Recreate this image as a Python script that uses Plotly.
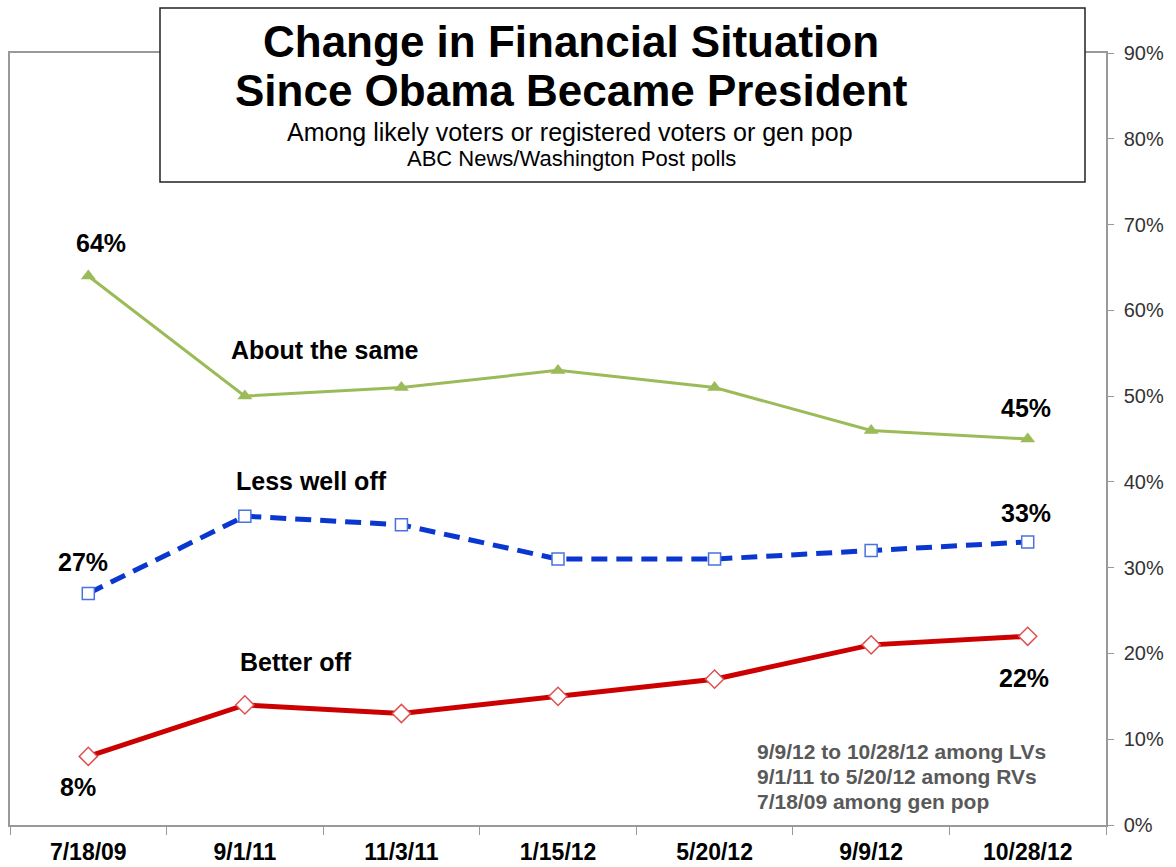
import plotly.graph_objects as go

# Poll dates and shares (percent) for each answer
dates = ["7/18/09", "9/1/11", "11/3/11", "1/15/12", "5/20/12", "9/9/12", "10/28/12"]
about_same = [64, 50, 51, 53, 51, 46, 45]
less_well_off = [27, 36, 35, 31, 31, 32, 33]
better_off = [8, 14, 13, 15, 17, 21, 22]

y_ticks = [0, 10, 20, 30, 40, 50, 60, 70, 80, 90]
y_labels = [f"{v}%" for v in y_ticks]

FONT = "Arial, 'Liberation Sans', sans-serif"
W, H = 1176, 867
L, R, T, B = 10, 70, 53, 42


def px(x):
    return (x - L) / (W - L - R)


def py(y):
    return (H - B - y) / (H - T - B)


fig = go.Figure()

fig.add_trace(go.Scatter(
    x=dates, y=about_same, mode="lines+markers", name="About the same",
    line=dict(color="#9BBB59", width=3),
    marker=dict(symbol="triangle-up", size=13, color="#9BBB59"),
))
fig.add_trace(go.Scatter(
    x=dates, y=less_well_off, mode="lines+markers", name="Less well off",
    line=dict(color="#0A37D0", width=5, dash="16px,9px"),
    marker=dict(symbol="square", size=12, color="white",
                line=dict(color="#4A72E0", width=1.5)),
))
fig.add_trace(go.Scatter(
    x=dates, y=better_off, mode="lines+markers", name="Better off",
    line=dict(color="#CC0000", width=5),
    marker=dict(symbol="diamond", size=14, color="white",
                line=dict(color="#E05050", width=1.5)),
))

annotations = []


def label(text, x, y, size=25, color="black", bold=True, xanchor="center"):
    t = f"<b>{text}</b>" if bold else text
    annotations.append(dict(
        text=t, x=px(x), y=py(y), xref="paper", yref="paper",
        xanchor=xanchor, yanchor="middle", showarrow=False,
        font=dict(family=FONT, size=size, color=color),
    ))


# Value and series labels
label("64%", 101, 243)
label("About the same", 325, 350)
label("Less well off", 311, 481)
label("27%", 83, 562)
label("33%", 1026, 513)
label("45%", 1026, 408)
label("Better off", 296, 662)
label("22%", 1024, 678)
label("8%", 78, 787)

# Sample notes
for i, line in enumerate(["9/9/12 to 10/28/12 among LVs",
                          "9/1/11 to 5/20/12 among RVs",
                          "7/18/09 among gen pop"]):
    label(line, 755, 751 + i * 25, size=21, color="#595959", xanchor="left")

# Title block
label("Change in Financial Situation", 571, 42, size=44)
label("Since Obama Became President", 571, 91, size=44)
label("Among likely voters or registered voters or gen pop", 570, 132, size=25, bold=False)
label("ABC News/Washington Post polls", 571, 158, size=22, bold=False)

fig.update_layout(
    width=W, height=H,
    margin=dict(l=L, r=R, t=T, b=B),
    paper_bgcolor="white", plot_bgcolor="white",
    showlegend=False,
    annotations=annotations,
    shapes=[dict(
        type="rect", xref="paper", yref="paper",
        x0=px(160), x1=px(1085), y0=py(182), y1=py(8),
        line=dict(color="#222222", width=1.5), fillcolor="white", layer="above",
    )],
    xaxis=dict(
        type="category", range=[-0.5, 6.5], tickson="boundaries",
        ticks="outside", ticklen=8, tickcolor="#999999",
        showline=True, linecolor="#999999", linewidth=1.5, mirror=True,
        showgrid=False, zeroline=False, automargin=False,
        tickfont=dict(family=FONT, size=23, color="black"),
        tickprefix="<b>", ticksuffix="</b>",
        ticklabelstandoff=6,
    ),
    yaxis=dict(
        side="right", range=[0, 90], tickvals=y_ticks, ticktext=y_labels,
        ticks="outside", ticklen=6, tickcolor="#999999",
        showline=True, linecolor="#999999", linewidth=1.5, mirror=True,
        showgrid=False, zeroline=False, automargin=False,
        tickfont=dict(family=FONT, size=20, color="#333333"),
        ticklabelstandoff=6,
    ),
)

fig.write_html("out.html")
